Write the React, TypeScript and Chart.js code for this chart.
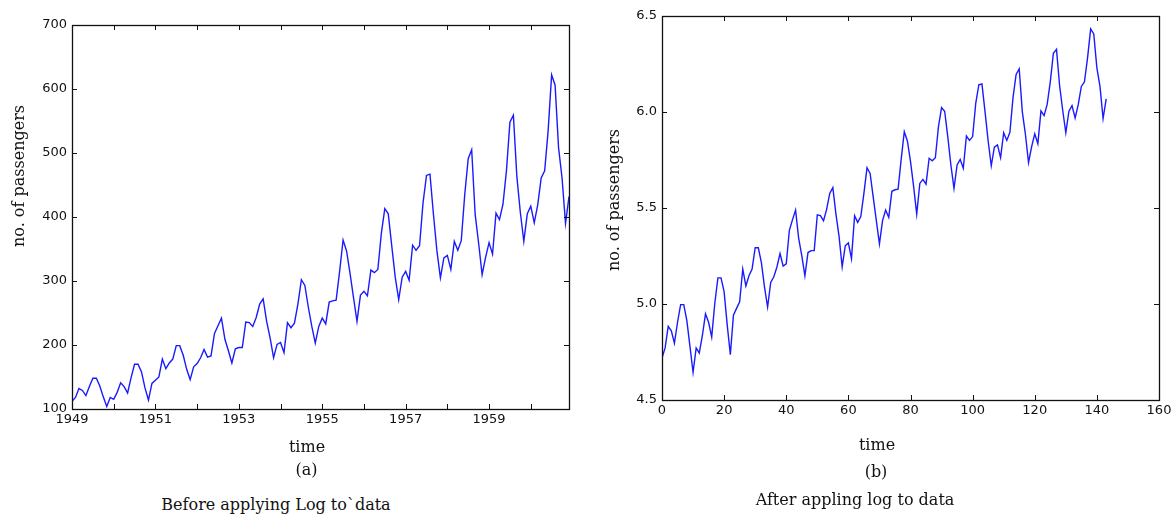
import React, { useEffect, useRef } from "react";
import { Chart, registerables } from "chart.js";

Chart.register(...registerables);

// Monthly airline passengers, Jan 1949 .. Dec 1960 (thousands)
const years = [1949, 1950, 1951, 1952, 1953, 1954, 1955, 1956, 1957, 1958, 1959, 1960];
const passengers = [
  112, 118, 132, 129, 121, 135, 148, 148, 136, 119, 104, 118,
  115, 126, 141, 135, 125, 149, 170, 170, 158, 133, 114, 140,
  145, 150, 178, 163, 172, 178, 199, 199, 184, 162, 146, 166,
  171, 180, 193, 181, 183, 218, 230, 242, 209, 191, 172, 194,
  196, 196, 236, 235, 229, 243, 264, 272, 237, 211, 180, 201,
  204, 188, 235, 227, 234, 264, 302, 293, 259, 229, 203, 229,
  242, 233, 267, 269, 270, 315, 364, 347, 312, 274, 237, 278,
  284, 277, 317, 313, 318, 374, 413, 405, 355, 306, 271, 306,
  315, 301, 356, 348, 355, 422, 465, 467, 404, 347, 305, 336,
  340, 318, 362, 348, 363, 435, 491, 505, 404, 359, 310, 337,
  360, 342, 406, 396, 420, 472, 548, 559, 463, 407, 362, 405,
  417, 391, 419, 461, 472, 535, 622, 606, 508, 461, 390, 432,
];
// Log of the passenger counts
const logPassengers = [
  4.718, 4.771, 4.883, 4.860, 4.796, 4.905, 4.997, 4.997, 4.913, 4.779, 4.644, 4.771,
  4.745, 4.836, 4.949, 4.905, 4.828, 5.004, 5.136, 5.136, 5.063, 4.890, 4.736, 4.942,
  4.977, 5.011, 5.182, 5.094, 5.147, 5.182, 5.293, 5.293, 5.215, 5.088, 4.984, 5.112,
  5.142, 5.193, 5.263, 5.198, 5.209, 5.384, 5.438, 5.489, 5.342, 5.252, 5.147, 5.268,
  5.278, 5.278, 5.464, 5.460, 5.434, 5.493, 5.576, 5.606, 5.468, 5.352, 5.193, 5.303,
  5.318, 5.236, 5.460, 5.425, 5.455, 5.576, 5.710, 5.680, 5.557, 5.434, 5.313, 5.434,
  5.489, 5.451, 5.587, 5.595, 5.598, 5.753, 5.897, 5.849, 5.743, 5.613, 5.468, 5.628,
  5.649, 5.624, 5.759, 5.746, 5.762, 5.924, 6.023, 6.004, 5.872, 5.724, 5.602, 5.724,
  5.753, 5.707, 5.875, 5.852, 5.872, 6.045, 6.142, 6.146, 6.001, 5.849, 5.720, 5.817,
  5.829, 5.762, 5.892, 5.852, 5.894, 6.075, 6.196, 6.225, 6.001, 5.883, 5.737, 5.820,
  5.886, 5.835, 6.006, 5.981, 6.040, 6.157, 6.306, 6.326, 6.138, 6.009, 5.892, 6.004,
  6.033, 5.969, 6.038, 6.133, 6.157, 6.282, 6.433, 6.407, 6.230, 6.133, 5.966, 6.068,
];

const yTicksA = [100, 200, 300, 400, 500, 600, 700];
const yTicksB = [4.5, 5.0, 5.5, 6.0, 6.5];
const xTicksB = [0, 20, 40, 60, 80, 100, 120, 140, 160];

const TICK_FONT = { family: "'DejaVu Sans', sans-serif", size: 13 };
const TICK_COLOR = "#111";
const LINE_COLOR = "#1a1aff";

// Matplotlib-like frame with inward ticks on all four sides
const framePlugin = {
  id: "frameTicks",
  afterDraw(chart: any) {
    const { ctx, chartArea } = chart;
    const { left, right, top, bottom } = chartArea;
    const len = 5;
    ctx.save();
    ctx.strokeStyle = "#111";
    ctx.lineWidth = 1;
    const xs = chart.scales.x;
    const ys = chart.scales.y;
    ctx.beginPath();
    xs.ticks.forEach((t: any) => {
      const px = Math.round(xs.getPixelForValue(t.value)) + 0.5;
      ctx.moveTo(px, bottom);
      ctx.lineTo(px, bottom - len);
      ctx.moveTo(px, top);
      ctx.lineTo(px, top + len);
    });
    ys.ticks.forEach((t: any) => {
      const py = Math.round(ys.getPixelForValue(t.value)) + 0.5;
      ctx.moveTo(left, py);
      ctx.lineTo(left + len, py);
      ctx.moveTo(right, py);
      ctx.lineTo(right - len, py);
    });
    ctx.stroke();
    ctx.lineWidth = 1.3;
    ctx.strokeRect(Math.round(left) + 0.5, Math.round(top) + 0.5, Math.round(right - left), Math.round(bottom - top));
    ctx.restore();
  },
};

function makeChart(
  canvas: HTMLCanvasElement,
  points: { x: number; y: number }[],
  x: any,
  y: any,
  pad: { top: number; right: number },
  xAxisHeight: number
) {
  return new Chart(canvas, {
    type: "line",
    data: {
      datasets: [
        {
          data: points,
          borderColor: LINE_COLOR,
          borderWidth: 1.4,
          pointRadius: 0,
          tension: 0,
          fill: false,
        },
      ],
    },
    options: {
      animation: false,
      responsive: false,
      devicePixelRatio: 1,
      layout: { padding: { left: 0, top: pad.top, right: pad.right, bottom: 0 } },
      plugins: { legend: { display: false }, tooltip: { enabled: false } },
      scales: {
        x: {
          type: "linear",
          ...x,
          grid: { display: false, drawTicks: false, tickLength: 0 },
          border: { display: false },
          afterFit: (s: any) => {
            s.height = xAxisHeight;
          },
          ticks: {
            ...x.ticks,
            autoSkip: false,
            includeBounds: false,
            maxRotation: 0,
            minRotation: 0,
            padding: 3,
            font: TICK_FONT,
            color: TICK_COLOR,
          },
        },
        y: {
          type: "linear",
          ...y,
          grid: { display: false, drawTicks: false, tickLength: 0 },
          border: { display: false },
          afterFit: (s: any) => {
            s.width = 72;
          },
          ticks: {
            ...y.ticks,
            autoSkip: false,
            includeBounds: false,
            padding: 5,
            font: TICK_FONT,
            color: TICK_COLOR,
          },
        },
      },
    },
    plugins: [framePlugin],
  });
}

const serif: React.CSSProperties = {
  position: "absolute",
  fontFamily: "'DejaVu Serif', serif",
  fontSize: 16,
  lineHeight: "16px",
  color: "#111",
  whiteSpace: "nowrap",
};

function Label({ x, y, text, rotate }: { x: number; y: number; text: string; rotate?: boolean }) {
  return (
    <div
      style={{
        ...serif,
        left: x,
        top: y,
        transform: `translate(-50%, -50%)${rotate ? " rotate(-90deg)" : ""}`,
      }}
    >
      {text}
    </div>
  );
}

export default function App() {
  const refA = useRef<HTMLCanvasElement>(null);
  const refB = useRef<HTMLCanvasElement>(null);

  useEffect(() => {
    const ptsA = passengers.map((v, i) => ({ x: years[Math.floor(i / 12)] + (i % 12) / 12, y: v }));
    const ptsB = logPassengers.map((v, i) => ({ x: i, y: v }));
    const lastX = ptsA[ptsA.length - 1].x;

    const chartA = makeChart(
      refA.current!,
      ptsA,
      {
        min: years[0],
        max: lastX,
        ticks: {
          stepSize: 1,
          callback: (v: number) => (Math.round(v) % 2 === 1 ? String(Math.round(v)) : ""),
        },
      },
      {
        min: yTicksA[0],
        max: yTicksA[yTicksA.length - 1],
        ticks: { stepSize: 100, callback: (v: number) => String(v) },
      },
      { top: 25, right: 31 },
      46
    );
    const chartB = makeChart(
      refB.current!,
      ptsB,
      {
        min: xTicksB[0],
        max: xTicksB[xTicksB.length - 1],
        ticks: { stepSize: 20, callback: (v: number) => String(v) },
      },
      {
        min: yTicksB[0],
        max: yTicksB[yTicksB.length - 1],
        ticks: { stepSize: 0.5, callback: (v: number) => Number(v).toFixed(1) },
      },
      { top: 16, right: 31 },
      54
    );
    return () => {
      chartA.destroy();
      chartB.destroy();
    };
  }, []);

  return (
    <div
      style={{
        position: "absolute",
        left: 0,
        top: 0,
        width: 1176,
        height: 518,
        overflow: "hidden",
        background: "#fff",
      }}
    >
      <canvas
        ref={refA}
        width={600}
        height={455}
        style={{ position: "absolute", left: 0, top: 0, width: 600, height: 455 }}
      />
      <canvas
        ref={refB}
        width={600}
        height={454}
        style={{ position: "absolute", left: 590, top: 0, width: 600, height: 454 }}
      />
      <Label x={18.5} y={176} text="no. of passengers" rotate />
      <Label x={307} y={446.5} text="time" />
      <Label x={306.5} y={469.5} text="(a)" />
      <Label x={276} y={504.5} text="Before applying Log to`data" />

      <Label x={614} y={199.5} text="no. of passengers" rotate />
      <Label x={877} y={444.5} text="time" />
      <Label x={876} y={471.5} text="(b)" />
      <Label x={855} y={499.5} text="After appling log to data" />
    </div>
  );
}
